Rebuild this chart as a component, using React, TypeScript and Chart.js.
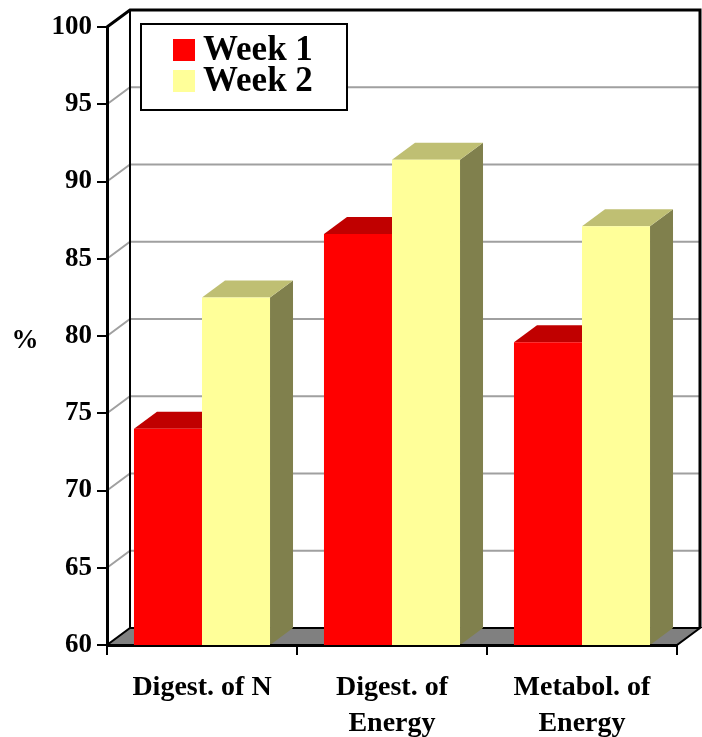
import React, { useEffect, useRef } from "react";
import { Chart, registerables } from "chart.js";

Chart.register(...registerables);

const categories: string[][] = [["Digest. of N"], ["Digest. of", "Energy"], ["Metabol. of", "Energy"]];
const week1: number[] = [74.0, 86.6, 79.6];
const week2: number[] = [82.5, 91.4, 87.1];
const seriesNames: string[] = ["Week 1", "Week 2"];
const yMin = 60;
const yMax = 100;
const yStep = 5;
const yTitle = "%";

const FONT = '"Liberation Serif", "Times New Roman", serif';
const DX = 23;
const DY = -17;
const frontColors = ["#FF0000", "#FFFF99"];
const topColors = ["#C00000", "#BFBF73"];
const sideColors = ["#800000", "#80804D"];

const threeD = {
  id: "threeD",
  beforeDraw(chart: any) {
    const { ctx, chartArea } = chart;
    const { left, right, top, bottom } = chartArea;
    const yScale = chart.scales.y;
    ctx.save();
    // walls
    ctx.fillStyle = "#FFFFFF";
    ctx.fillRect(left + DX, top + DY, right - left, bottom - top);
    // gridlines
    ctx.lineWidth = 2;
    for (let v = yMin + yStep; v < yMax; v += yStep) {
      const y = yScale.getPixelForValue(v);
      ctx.strokeStyle = "#A0A0A0";
      ctx.beginPath();
      ctx.moveTo(left, y);
      ctx.lineTo(left + DX, y + DY);
      ctx.lineTo(right + DX, y + DY);
      ctx.stroke();
    }
    // back wall borders
    ctx.strokeStyle = "#000000";
    ctx.lineWidth = 3;
    ctx.beginPath();
    ctx.moveTo(left, top);
    ctx.lineTo(left + DX, top + DY);
    ctx.lineTo(right + DX, top + DY);
    ctx.lineTo(right + DX, bottom + DY);
    ctx.stroke();
    ctx.lineWidth = 2;
    ctx.beginPath();
    ctx.moveTo(left + DX, top + DY);
    ctx.lineTo(left + DX, bottom + DY);
    ctx.stroke();
    // floor
    ctx.fillStyle = "#808080";
    ctx.beginPath();
    ctx.moveTo(left, bottom);
    ctx.lineTo(right, bottom);
    ctx.lineTo(right + DX, bottom + DY);
    ctx.lineTo(left + DX, bottom + DY);
    ctx.closePath();
    ctx.fill();
    ctx.strokeStyle = "#000000";
    ctx.lineWidth = 2;
    ctx.stroke();
    // bar tops and sides
    chart.data.datasets.forEach((_ds: any, di: number) => {
      const meta = chart.getDatasetMeta(di);
      meta.data.forEach((el: any) => {
        const w = el.width;
        const l = el.x - w / 2;
        const r = el.x + w / 2;
        const t = el.y;
        const b = Math.min(el.base, bottom);
        ctx.fillStyle = sideColors[di];
        ctx.beginPath();
        ctx.moveTo(r, t);
        ctx.lineTo(r + DX, t + DY);
        ctx.lineTo(r + DX, b + DY);
        ctx.lineTo(r, b);
        ctx.closePath();
        ctx.fill();
        ctx.fillStyle = topColors[di];
        ctx.beginPath();
        ctx.moveTo(l, t);
        ctx.lineTo(r, t);
        ctx.lineTo(r + DX, t + DY);
        ctx.lineTo(l + DX, t + DY);
        ctx.closePath();
        ctx.fill();
      });
    });
    ctx.restore();
  },
  afterDraw(chart: any) {
    const { ctx } = chart;
    ctx.save();
    // legend
    ctx.fillStyle = "#FFFFFF";
    ctx.fillRect(141, 24, 206, 86);
    ctx.strokeStyle = "#000000";
    ctx.lineWidth = 2;
    ctx.strokeRect(141, 24, 206, 86);
    ctx.font = `bold 35px ${FONT}`;
    ctx.textBaseline = "alphabetic";
    ctx.textAlign = "left";
    chart.data.datasets.forEach((ds: any, i: number) => {
      const baseY = 60 + i * 31;
      ctx.fillStyle = frontColors[i];
      ctx.fillRect(173, baseY - 21, 22, 22);
      ctx.fillStyle = "#000000";
      ctx.fillText(ds.label, 203, baseY);
    });
    // y title
    ctx.font = `bold 27px ${FONT}`;
    ctx.textAlign = "center";
    ctx.textBaseline = "middle";
    ctx.fillStyle = "#000000";
    ctx.fillText(yTitle, 25, 341);
    ctx.restore();
  },
};

export default function App() {
  const ref = useRef<HTMLCanvasElement | null>(null);
  useEffect(() => {
    if (!ref.current) return;
    const chart = new Chart(ref.current, {
      type: "bar",
      data: {
        labels: categories,
        datasets: [
          { label: seriesNames[0], data: week1, backgroundColor: frontColors[0], borderWidth: 0 },
          { label: seriesNames[1], data: week2, backgroundColor: frontColors[1], borderWidth: 0 },
        ],
      },
      options: {
        responsive: false,
        animation: false,
        devicePixelRatio: 1,
        layout: { padding: { left: 0, right: 25, top: 27, bottom: 0 } },
        datasets: { bar: { categoryPercentage: 0.716, barPercentage: 1 } },
        plugins: { legend: { display: false }, tooltip: { enabled: false } },
        scales: {
          x: {
            z: 1,
            offset: true,
            grid: { offset: true, drawOnChartArea: false, drawTicks: true, tickLength: 10, color: "#000000", lineWidth: 2 },
            border: { display: true, color: "#000000", width: 3 },
            ticks: {
              color: "#000000",
              padding: 15,
              maxRotation: 0,
              autoSkip: false,
              font: { family: FONT, weight: "bold", size: 28, lineHeight: 1.29 },
            },
            afterFit: (s: any) => {
              s.height = 92;
            },
          },
          y: {
            min: yMin,
            max: yMax,
            grid: { drawOnChartArea: false, drawTicks: true, tickLength: 10, color: "#000000", lineWidth: 2 },
            border: { display: true, color: "#000000", width: 3 },
            ticks: {
              stepSize: yStep,
              color: "#000000",
              padding: 5,
              font: { family: FONT, weight: "bold", size: 27 },
            },
            afterFit: (s: any) => {
              s.width = 107;
            },
          },
        },
      },
      plugins: [threeD],
    } as any);
    return () => chart.destroy();
  }, []);
  return (
    <div style={{ position: "absolute", left: 0, top: 0, width: 702, height: 737 }}>
      <canvas ref={ref} width={702} height={737} style={{ display: "block" }} />
    </div>
  );
}
